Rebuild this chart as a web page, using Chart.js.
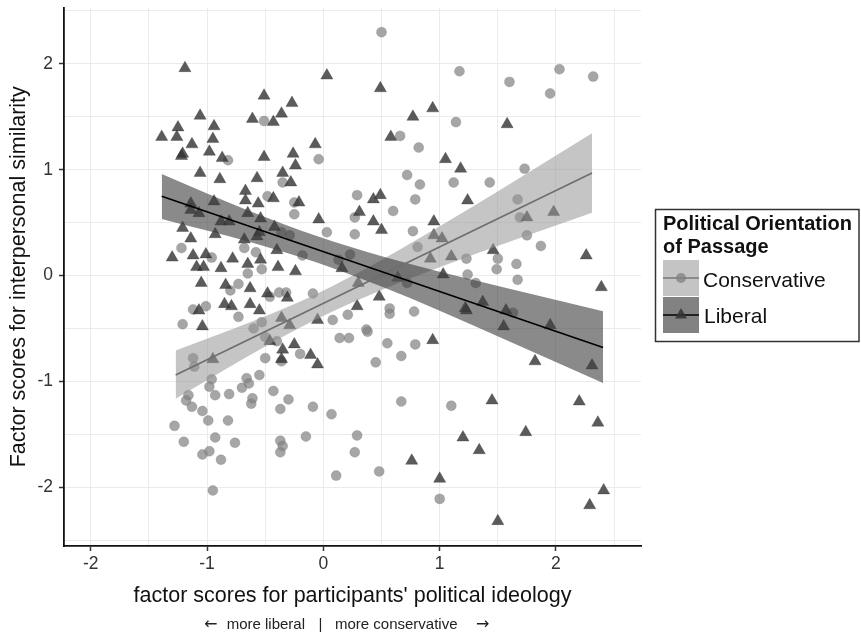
<!DOCTYPE html>
<html>
<head>
<meta charset="utf-8">
<script src="https://cdn.jsdelivr.net/npm/chart.js@4.4.1/dist/chart.umd.min.js"></script>
<style>
html,body{margin:0;padding:0;background:#fff;}
#wrap{position:relative;width:861px;height:636px;}
</style>
</head>
<body>
<div id="wrap"><canvas id="c" width="861" height="636"></canvas></div>
<script>
// ---- data ----
const consX = [-0.51,-0.82,-0.04,-0.35,-0.48,-0.25,-0.25,0.03,-1.22,-0.96,-0.68,-0.58,-0.36,-0.29,-0.18,0.13,
  0.50,1.17,1.60,2.03,1.95,2.32,1.14,0.66,0.82,1.73,0.72,0.83,1.12,1.43,0.29,0.79,1.67,0.60,0.27,1.69,0.27,0.77,1.75,1.87,0.81,1.23,1.50,1.66,0.23,
  -0.65,-0.53,-0.73,-0.80,-0.46,-0.38,-0.32,-0.09,-1.12,-1.01,-1.21,-0.73,-0.60,-0.53,0.08,0.14,-0.50,-0.40,-0.20,-0.50,-0.36,-1.12,-1.11,-0.55,-0.96,-0.98,-0.66,-0.64,-0.70,-0.43,-1.16,-1.18,-1.13,-0.93,-0.81,-0.61,-0.62,-0.30,-0.09,0.07,-0.37,-1.04,-0.99,-0.82,-1.28,-0.15,-1.20,-0.93,-0.76,-0.37,-0.35,-0.37,-1.04,-0.98,-0.88,0.11,-0.95,
  0.21,0.22,0.37,0.38,0.57,0.57,0.78,0.55,0.79,0.67,0.45,0.67,1.10,0.29,0.27,0.48,1.00,1.24,1.31,1.49,1.67,1.63,0.72];
const consY = [1.46,1.09,1.10,0.88,0.75,0.69,0.58,0.41,0.26,0.17,0.26,0.22,0.41,0.38,0.19,0.15,
  2.30,1.93,1.83,1.95,1.72,1.88,1.45,1.32,1.21,1.01,0.95,0.86,0.88,0.88,0.76,0.72,0.72,0.61,0.55,0.55,0.39,0.42,0.38,0.28,0.27,0.16,0.16,0.11,0.20,
  0.02,0.06,-0.08,-0.14,-0.20,-0.16,-0.16,-0.17,-0.32,-0.29,-0.46,-0.39,-0.50,-0.44,-0.42,-0.59,-0.58,-0.62,-0.74,-0.78,-0.81,-0.78,-0.86,-0.94,-0.98,-1.05,-0.97,-1.02,-1.06,-1.09,-1.13,-1.18,-1.24,-1.13,-1.12,-1.16,-1.21,-1.17,-1.24,-1.31,-1.26,-1.28,-1.37,-1.37,-1.42,-1.52,-1.57,-1.53,-1.58,-1.56,-1.61,-1.67,-1.69,-1.66,-1.74,-1.89,-2.03,
  -0.37,-0.59,-0.51,-0.53,-0.31,-0.36,-0.34,-0.64,-0.65,-0.76,-0.82,-1.19,-1.23,-1.51,-1.67,-1.85,-2.11,0.01,-0.07,0.06,-0.04,-0.35,-0.07];

const libX = [-1.19,0.03,-0.51,-0.27,-1.06,-0.61,-0.36,-0.43,-1.25,-0.94,-1.39,-1.26,-0.95,-1.13,-0.07,-0.98,-1.22,-1.21,-0.87,-0.51,-0.26,-0.24,-1.06,-0.35,-0.89,-0.57,-0.28,-0.67,-0.94,-0.67,-0.43,-0.21,-1.14,-1.14,-1.07,-0.56,-0.65,-0.54,-0.04,-0.88,-0.81,-1.21,-0.93,-0.42,-1.14,-0.68,-0.57,-0.55,-0.40,-1.30,-1.12,-1.01,-0.78,-0.65,-0.54,
  0.49,0.77,0.94,1.58,0.58,1.05,1.18,0.43,0.49,1.24,0.31,0.43,0.50,0.95,1.75,1.98,0.95,1.02,1.46,0.92,1.10,2.26,
  -1.09,-1.03,-0.88,-0.39,-0.24,-1.05,-0.84,-0.63,-0.48,-0.31,-0.85,-0.79,-0.63,-0.55,-1.07,-1.04,-0.36,-0.29,-0.05,-0.46,-0.35,-0.36,-0.25,-0.11,-0.05,-0.95,
  0.16,0.30,0.29,0.48,0.64,1.03,0.94,1.22,1.23,1.37,1.57,1.55,1.95,1.82,2.31,2.39,1.45,2.20,2.36,1.74,1.20,1.34,0.76,1.00,2.41,2.29,1.50];
const libY = [1.96,1.89,1.70,1.63,1.51,1.48,1.53,1.45,1.40,1.41,1.31,1.31,1.29,1.24,1.24,1.17,1.13,1.15,1.11,1.12,1.15,1.04,0.97,0.97,0.91,0.92,0.88,0.80,0.70,0.71,0.73,0.69,0.68,0.62,0.59,0.68,0.59,0.54,0.53,0.51,0.51,0.45,0.39,0.46,0.35,0.34,0.37,0.41,0.24,0.17,0.19,0.20,0.16,0.11,0.15,
  1.77,1.50,1.58,1.43,1.31,1.10,1.01,0.72,0.76,0.71,0.60,0.51,0.43,0.51,0.55,0.60,0.38,0.35,0.24,0.16,0.18,0.19,
  0.08,0.08,0.07,0.08,0.04,-0.07,-0.09,-0.12,-0.17,-0.21,-0.27,-0.29,-0.27,-0.33,-0.33,-0.48,-0.40,-0.47,-0.42,-0.62,-0.70,-0.79,-0.65,-0.75,-0.84,-0.79,
  0.07,-0.07,-0.29,-0.20,-0.02,0.01,-0.61,-0.31,-0.33,-0.25,-0.33,-0.48,-0.47,-0.81,-0.85,-0.11,-1.18,-1.19,-1.39,-1.48,-1.53,-1.65,-1.75,-1.92,-2.03,-2.17,-2.32];

// fitted lines (end points)
const consFitX = [-1.27, 2.31];
const consFitY = [-0.94, 0.97];
const libFitX = [-1.39, 2.405];
const libFitY = [0.75, -0.68];

// confidence bands (edges)
const consBandX = [-1.27, -0.63, -0.06, 0.5, 1.0, 1.6, 2.31];
const consBandUpper = [-0.708, -0.442, -0.173, 0.148, 0.466, 0.863, 1.345];
const consBandLower = [-1.164, -0.750, -0.413, -0.136, 0.078, 0.319, 0.593];
const libBandX = [-1.39, -0.63, -0.05, 0.51, 1.0, 1.6, 2.405];
const libBandUpper = [0.961, 0.608, 0.371, 0.180, 0.036, -0.124, -0.336];
const libBandLower = [0.535, 0.318, 0.121, -0.108, -0.332, -0.622, -1.014];

const xTickValues = [-2, -1, 0, 1, 2];
const yTickValues = [-2, -1, 0, 1, 2];
const seriesNames = ['Conservative', 'Liberal'];

// ---- build chart ----
const FONT = '"Liberation Sans", Arial, Helvetica, sans-serif';
Chart.defaults.font.family = FONT;
Chart.defaults.color = '#333';

const pts = (xs, ys) => xs.map((x, i) => ({x: x, y: ys[i]}));
const isLabeled = (v, list) => list.some(t => Math.abs(t - v) < 1e-6);

const legendPlugin = {
  id: 'customText',
  afterDraw(chart) {
    const ctx = chart.ctx;
    ctx.save();
    // subtitle under x axis title
    ctx.fillStyle = '#222';
    ctx.textBaseline = 'middle';
    const y = 625;
    ctx.font = '16px "DejaVu Sans", sans-serif';
    ctx.textAlign = 'left';  ctx.fillText('\u2190', 204, y);
    ctx.textAlign = 'left';  ctx.fillText('\u2192', 476, y);
    ctx.font = '15px ' + FONT;
    ctx.textAlign = 'right'; ctx.fillText('more liberal', 305, y);
    ctx.textAlign = 'center'; ctx.fillText('|', 320.5, y);
    ctx.textAlign = 'left';  ctx.fillText('more conservative', 335, y);

    // legend box
    ctx.strokeStyle = '#333';
    ctx.lineWidth = 1.5;
    ctx.strokeRect(655.5, 209.5, 203.5, 132);
    ctx.fillStyle = '#111';
    ctx.textAlign = 'left';
    ctx.textBaseline = 'alphabetic';
    ctx.font = 'bold 20px ' + FONT;
    ctx.fillText('Political Orientation', 663, 230);
    ctx.fillText('of Passage', 663, 253);

    // key 1: conservative
    ctx.fillStyle = 'rgb(196,196,196)';
    ctx.fillRect(663, 260, 36, 36);
    ctx.strokeStyle = '#777';
    ctx.lineWidth = 1.5;
    ctx.beginPath(); ctx.moveTo(663, 278); ctx.lineTo(699, 278); ctx.stroke();
    ctx.fillStyle = 'rgba(128,128,128,0.75)';
    ctx.beginPath(); ctx.arc(681, 278, 5, 0, Math.PI * 2); ctx.fill();

    // key 2: liberal
    ctx.fillStyle = 'rgb(130,130,130)';
    ctx.fillRect(663, 297, 36, 36);
    ctx.strokeStyle = '#000';
    ctx.beginPath(); ctx.moveTo(663, 315); ctx.lineTo(699, 315); ctx.stroke();
    ctx.fillStyle = 'rgba(50,50,50,0.85)';
    const r = 7, cx = 681, cy = 315;
    ctx.beginPath();
    ctx.moveTo(cx, cy - r);
    ctx.lineTo(cx + r * Math.sin(Math.PI * 2 / 3), cy - r * Math.cos(Math.PI * 2 / 3));
    ctx.lineTo(cx - r * Math.sin(Math.PI * 2 / 3), cy - r * Math.cos(Math.PI * 2 / 3));
    ctx.closePath(); ctx.fill();

    ctx.fillStyle = '#111';
    ctx.font = '21px ' + FONT;
    ctx.fillText(seriesNames[0], 703, 287);
    ctx.fillText(seriesNames[1], 704, 323);
    ctx.restore();
  }
};

const gridCommon = (list) => ({
  color: '#ebebeb',
  lineWidth: 1,
  drawOnChartArea: true,
  drawTicks: true,
  tickLength: 5,
  tickWidth: 1.5,
  tickColor: (c) => (c.tick && isLabeled(c.tick.value, list)) ? '#333' : 'rgba(0,0,0,0)'
});

new Chart(document.getElementById('c'), {
  type: 'scatter',
  data: {
    datasets: [
      { label: 'consUpper', data: pts(consBandX, consBandUpper), showLine: true, borderWidth: 0, borderColor: 'rgba(0,0,0,0)', pointRadius: 0, fill: false, order: 6, cubicInterpolationMode: 'monotone' },
      { label: 'consLower', data: pts(consBandX, consBandLower), showLine: true, borderWidth: 0, borderColor: 'rgba(0,0,0,0)', pointRadius: 0, fill: {target: 0}, backgroundColor: 'rgba(150,150,150,0.55)', order: 5, cubicInterpolationMode: 'monotone' },
      { label: 'libUpper', data: pts(libBandX, libBandUpper), showLine: true, borderWidth: 0, borderColor: 'rgba(0,0,0,0)', pointRadius: 0, fill: false, order: 4, cubicInterpolationMode: 'monotone' },
      { label: 'libLower', data: pts(libBandX, libBandLower), showLine: true, borderWidth: 0, borderColor: 'rgba(0,0,0,0)', pointRadius: 0, fill: {target: 2}, backgroundColor: 'rgba(60,60,60,0.6)', order: 3, cubicInterpolationMode: 'monotone' },
      { label: seriesNames[0], data: pts(consX, consY), pointStyle: 'circle', pointRadius: 5, backgroundColor: 'rgba(128,128,128,0.7)', borderColor: 'rgba(110,110,110,0.5)', borderWidth: 0.5, order: 10 },
      { label: seriesNames[1], data: pts(libX, libY), pointStyle: 'triangle', pointRadius: 7, backgroundColor: 'rgba(50,50,50,0.8)', borderColor: 'rgba(40,40,40,0.6)', borderWidth: 0.5, order: 9 },
      { label: 'consFit', data: pts(consFitX, consFitY), showLine: true, borderColor: '#6e6e6e', borderWidth: 1.6, pointRadius: 0, fill: false, order: 2 },
      { label: 'libFit', data: pts(libFitX, libFitY), showLine: true, borderColor: '#000', borderWidth: 1.6, pointRadius: 0, fill: false, order: 1 }
    ]
  },
  options: {
    responsive: false,
    animation: false,
    devicePixelRatio: 1,
    events: [],
    layout: { padding: { top: 5, right: 220, bottom: 0, left: 0 } },
    plugins: { legend: { display: false }, tooltip: { enabled: false } },
    scales: {
      x: {
        type: 'linear',
        min: -2.23, max: 2.731,
        afterFit: (s) => { s.height = 90; s.paddingLeft = 0; s.paddingRight = 0; },
        ticks: {
          stepSize: 0.5, autoSkip: false, includeBounds: false, maxRotation: 0, padding: 3,
          color: '#333', font: { size: 17.5, family: FONT },
          callback: (v) => isLabeled(v, xTickValues) ? String(Math.round(v)) : ''
        },
        grid: gridCommon(xTickValues),
        border: { display: true, color: '#111', width: 1.8 },
        title: { display: true, text: "factor scores for participants' political ideology", color: '#111', font: { size: 21.5, family: FONT }, padding: { top: 0, bottom: 27 } }
      },
      y: {
        type: 'linear',
        min: -2.555, max: 2.533,
        afterFit: (s) => { s.width = 64; s.paddingTop = 0; s.paddingBottom = 0; },
        ticks: {
          stepSize: 0.5, autoSkip: false, includeBounds: false, padding: 6,
          color: '#333', font: { size: 17.5, family: FONT },
          callback: (v) => isLabeled(v, yTickValues) ? String(Math.round(v)) : ''
        },
        grid: gridCommon(yTickValues),
        border: { display: true, color: '#111', width: 1.8 },
        title: { display: true, text: 'Factor scores for interpersonal similarity', color: '#111', font: { size: 21.5, family: FONT }, padding: { top: 6, bottom: 0 } }
      }
    }
  },
  plugins: [legendPlugin]
});
</script>
</body>
</html>
